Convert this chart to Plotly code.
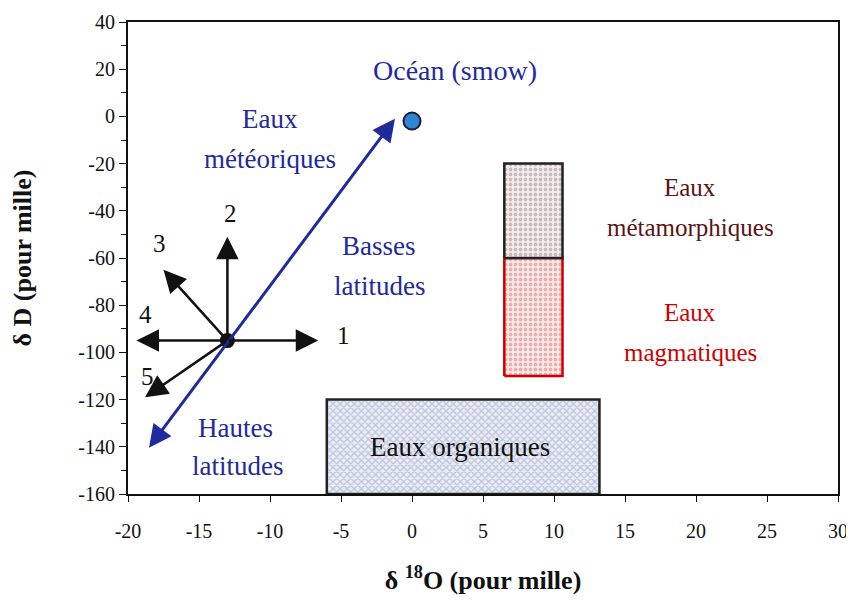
import plotly.graph_objects as go

# Reference points (delta18O, deltaD)
ocean = (0, -2)
centre = (-13, -95)
meteoric_low = (-18.6, -141)
meteoric_high = (-1.2, -1)

# Arrows from the centre point
arrow_ends_x = [-6.6, -13, -17.5, -19.4, -18.8]
arrow_ends_y = [-95, -51, -65, -95, -119]
arrow_labels = ["1", "2", "3", "4", "5"]
label_x = [-4.8, -12.8, -17.8, -18.8, -18.6]
label_y = [-93, -41, -54, -84, -110]

# Water domains: x0, x1, y0, y1
organiques = [-6, 13.2, -160, -120]
metamorphiques = [6.5, 10.6, -60, -20]
magmatiques = [6.5, 10.6, -110, -60]

xticks = [-20, -15, -10, -5, 0, 5, 10, 15, 20, 25, 30]
yticks = [40, 20, 0, -20, -40, -60, -80, -100, -120, -140, -160]

serif = "Liberation Serif, Times New Roman, Times, serif"
blue = "#1f2a9c"

fig = go.Figure()


def box(b, line_color, fill_bg, fill_fg, shape):
    x0, x1, y0, y1 = b
    fig.add_trace(go.Scatter(
        x=[x0, x1, x1, x0, x0], y=[y0, y0, y1, y1, y0],
        mode="lines", fill="toself",
        fillcolor=fill_bg,
        fillpattern=dict(shape=shape, fgcolor=fill_fg, bgcolor=fill_bg,
                         size=5, solidity=0.45),
        line=dict(color=line_color, width=2.5),
        hoverinfo="skip", showlegend=False))


box(organiques, "#222222", "#eaedf5", "#8f9bc2", "x")
box(magmatiques, "#d10000", "#fbeaea", "#d07878", ".")
box(metamorphiques, "#222222", "#f4eeee", "#a08890", ".")

fig.add_trace(go.Scatter(x=[ocean[0]], y=[ocean[1]], mode="markers",
                         marker=dict(size=17, color="#2f86cf",
                                     line=dict(color="#1a1a40", width=2)),
                         showlegend=False))
fig.add_trace(go.Scatter(x=[centre[0]], y=[centre[1]], mode="markers",
                         marker=dict(size=15, color="#111111"),
                         showlegend=False))

annotations = []
# Meteoric water line (double arrow)
annotations.append(dict(x=meteoric_high[0], y=meteoric_high[1],
                        ax=meteoric_low[0], ay=meteoric_low[1],
                        xref="x", yref="y", axref="x", ayref="y", text="",
                        showarrow=True, arrowhead=2, startarrowhead=2,
                        arrowside="end+start", arrowsize=1.5, startarrowsize=1.5,
                        arrowwidth=3, arrowcolor=blue))

for ex, ey in zip(arrow_ends_x, arrow_ends_y):
    annotations.append(dict(x=ex, y=ey, ax=centre[0], ay=centre[1],
                            xref="x", yref="y", axref="x", ayref="y", text="",
                            showarrow=True, arrowhead=2, arrowsize=1.8,
                            arrowwidth=2.5, arrowcolor="#111111"))

for t, lx, ly in zip(arrow_labels, label_x, label_y):
    annotations.append(dict(x=lx, y=ly, text=t, showarrow=False,
                            font=dict(family=serif, size=25, color="#111111")))

texts = [
    ("Océan (smow)", 3.0, 19.5, blue, 28),
    ("Eaux", -10, -1, blue, 27),
    ("météoriques", -10, -18, blue, 27),
    ("Basses", -2.3, -55, blue, 27),
    ("latitudes", -2.3, -72, blue, 27),
    ("Hautes", -12.4, -132, blue, 27),
    ("latitudes", -12.3, -148, blue, 27),
    ("Eaux", 19.6, -30, "#5a1414", 25),
    ("métamorphiques", 19.6, -47, "#5a1414", 25),
    ("Eaux", 19.6, -83, "#d10000", 25),
    ("magmatiques", 19.6, -100, "#d10000", 25),
    ("Eaux organiques", 3.4, -140, "#111111", 27),
]
for t, tx, ty, c, s in texts:
    annotations.append(dict(x=tx, y=ty, text=t, showarrow=False,
                            font=dict(family=serif, size=s, color=c)))

fig.update_layout(
    width=854, height=603,
    margin=dict(l=120, r=24, t=14, b=117),
    paper_bgcolor="white", plot_bgcolor="white",
    annotations=annotations,
    font=dict(family=serif, color="#111111"),
)
fig.update_xaxes(range=[-20, 30], tickvals=xticks, ticktext=[str(v) for v in xticks],
                 showgrid=False, zeroline=False, automargin=False,
                 showline=True, linecolor="#111111", linewidth=2, mirror=True,
                 ticks="outside", ticklen=6, tickcolor="#111111",
                 ticklabelstandoff=12,
                 tickfont=dict(family=serif, size=20),
                 title=dict(text="<b>δ <sup>18</sup>O (pour mille)</b>",
                            font=dict(family=serif, size=26), standoff=30))
fig.update_yaxes(range=[-160, 40], tickvals=yticks, ticktext=[str(v) for v in yticks],
                 showgrid=False, zeroline=False, automargin=False,
                 showline=True, linecolor="#111111", linewidth=2, mirror=True,
                 ticks="outside", ticklen=7, tickcolor="#111111",
                 minor=dict(dtick=10, ticks="outside", ticklen=5, tickcolor="#111111"),
                 tickfont=dict(family=serif, size=20),
                 title=dict(text="<b>δ D (pour mille)</b>",
                            font=dict(family=serif, size=26), standoff=40))

fig.write_html("out.html")
